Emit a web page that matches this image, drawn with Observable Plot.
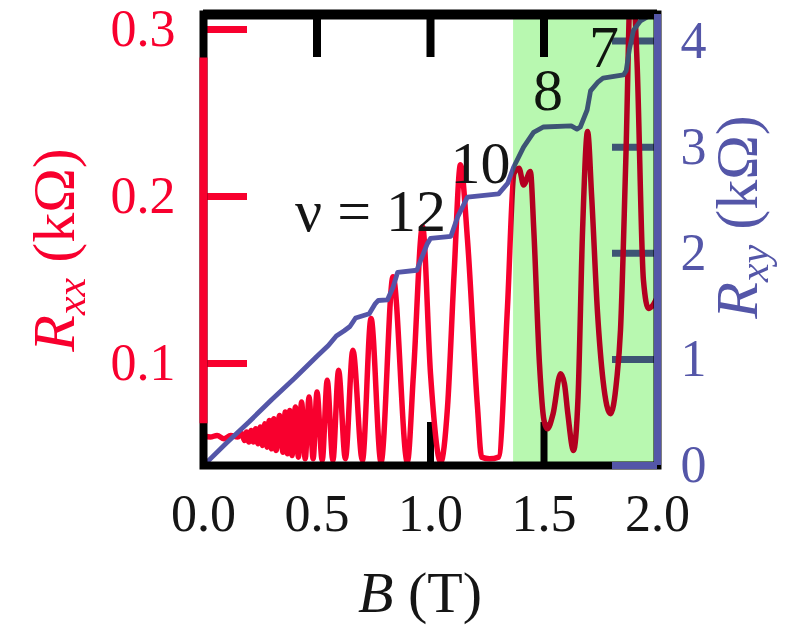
<!DOCTYPE html>
<html><head><meta charset="utf-8">
<script src="https://cdn.jsdelivr.net/npm/d3@7"></script>
<script src="https://cdn.jsdelivr.net/npm/@observablehq/plot@0.6"></script>
<style>body{margin:0;background:#fff}svg{display:block}</style>
</head><body><div id="chart"></div>
<script>
// ---- data ----
const bRxx = [0, 0.03, 0.06, 0.09, 0.12, 0.15, 0.17, 0.18, 0.19, 0.20, 0.21, 0.22, 0.23, 0.24, 0.25, 0.26, 0.27, 0.28, 0.29, 0.30, 0.31, 0.32, 0.335, 0.35, 0.36, 0.37, 0.38, 0.39, 0.405, 0.418, 0.432, 0.448, 0.465, 0.483, 0.50, 0.523, 0.545, 0.570, 0.595, 0.625, 0.658, 0.700, 0.738, 0.782, 0.835, 0.898, 0.925, 0.965, 1.0, 1.045, 1.075, 1.104, 1.132, 1.163, 1.207, 1.225, 1.26, 1.30, 1.339, 1.368, 1.39, 1.41, 1.44, 1.455, 1.48, 1.50, 1.515, 1.54, 1.573, 1.59, 1.605, 1.63, 1.65, 1.67, 1.692, 1.71, 1.736, 1.76, 1.793, 1.82, 1.837, 1.86, 1.885, 1.91, 1.938, 1.96, 1.98, 2.0];
const vRxx = [0.057, 0.056, 0.057, 0.055, 0.057, 0.056, 0.058, 0.054, 0.059, 0.053, 0.060, 0.053, 0.061, 0.052, 0.062, 0.051, 0.064, 0.050, 0.066, 0.049, 0.067, 0.048, 0.069, 0.047, 0.071, 0.046, 0.072, 0.045, 0.074, 0.044, 0.077, 0.043, 0.080, 0.043, 0.083, 0.042, 0.090, 0.042, 0.096, 0.043, 0.108, 0.042, 0.127, 0.041, 0.152, 0.041, 0.094, 0.182, 0.094, 0.041, 0.074, 0.154, 0.219, 0.174, 0.074, 0.044, 0.043, 0.044, 0.1335, 0.214, 0.217, 0.207, 0.215, 0.18, 0.10, 0.066, 0.061, 0.07, 0.094, 0.088, 0.07, 0.048, 0.08, 0.18, 0.239, 0.20, 0.13, 0.09, 0.07, 0.09, 0.12, 0.22, 0.34, 0.28, 0.15, 0.133, 0.135, 0.14];
const bRxy = [0, 0.1, 0.2, 0.3, 0.4, 0.5, 0.55, 0.585, 0.62, 0.645, 0.67, 0.73, 0.755, 0.77, 0.81, 0.835, 0.855, 0.94, 0.956, 0.986, 1.0, 1.09, 1.119, 1.163, 1.30, 1.34, 1.366, 1.41, 1.454, 1.498, 1.62, 1.645, 1.66, 1.69, 1.705, 1.736, 1.76, 1.85, 1.862, 1.876, 1.894, 1.925, 1.982, 2.0];
const vRxy = [0, 0.21, 0.41, 0.62, 0.82, 1.03, 1.13, 1.22, 1.27, 1.31, 1.39, 1.43, 1.52, 1.555, 1.56, 1.68, 1.82, 1.84, 1.93, 2.09, 2.14, 2.16, 2.34, 2.53, 2.56, 2.66, 2.81, 3.0, 3.14, 3.19, 3.2, 3.17, 3.19, 3.35, 3.53, 3.61, 3.65, 3.68, 3.72, 3.92, 4.10, 4.19, 4.26, 4.28];
const bTicks = [0, 0.5, 1, 1.5, 2];
const bTickLabels = ["0.0", "0.5", "1.0", "1.5", "2.0"];
const rxxTicks = [0.1, 0.2, 0.3];
const rxxTickLabels = ["0.1", "0.2", "0.3"];
const rxyTicks = [0, 1, 2, 3, 4];
const rxyTickLabels = ["0", "1", "2", "3", "4"];
const nuLabels = ["ν = 12", "10", "8", "7"];
const nuB = [0.736, 1.22, 1.518, 1.764];
const nuRxx = [0.191, 0.2198, 0.2635, 0.289];
const greenRange = [1.366, 2.0];
const rxxDomain = [0.039, 0.309];
const rxyDomain = [0, 4.25];

// ---- layout / style ----
const W = 798, H = 629, mL = 203, mR = 141, mT = 14, mB = 164;
const plotW = W - mL - mR, plotH = H - mT - mB;
const RED = "#f8002e", BLUE = "#5456a8", GREEN = "#b8f8b0";
const serif = "'Liberation Serif', 'Times New Roman', serif";
const toY = r => rxxDomain[0] + (r - rxyDomain[0]) * (rxxDomain[1] - rxxDomain[0]) / (rxyDomain[1] - rxyDomain[0]);

const rxxData = bRxx.map((b, i) => ({b, v: vRxx[i]}));
const rxyData = bRxy.map((b, i) => ({b, v: toY(vRxy[i])}));

const plot = Plot.plot({
  width: W, height: H,
  marginLeft: mL, marginRight: mR, marginTop: mT, marginBottom: mB,
  x: {domain: [0, 2], axis: null},
  y: {domain: rxxDomain, axis: null},
  style: {fontFamily: serif, background: "white"},
  marks: [
    // inner ticks
    Plot.ruleX(bTicks.slice(1, 4), {x: d => d, stroke: "#000", strokeWidth: 8, insetBottom: plotH - 43}),
    Plot.ruleX([bTicks[0], bTicks[2], bTicks[3]], {x: d => d, stroke: "#000", strokeWidth: 7, insetTop: plotH - 43}),
    Plot.ruleY(rxxTicks, {y: d => d, stroke: RED, strokeWidth: 7, insetRight: plotW - 44}),
    Plot.ruleY(rxyTicks, {y: d => toY(d), stroke: BLUE, strokeWidth: 7, insetLeft: plotW - 45}),
    // curves
    Plot.line(rxxData, {x: "b", y: "v", stroke: RED, strokeWidth: 5.5, curve: "monotone-x", clip: true}),
    Plot.line(rxyData, {x: "b", y: "v", stroke: BLUE, strokeWidth: 4.8, curve: "linear", clip: true}),
    // filling factor labels
    Plot.text(nuLabels, {x: (d, i) => nuB[i], y: (d, i) => nuRxx[i], text: d => d, fontSize: 60, fill: "#151515", lineAnchor: "middle"}),
    // shaded region
    Plot.rect([greenRange], {x1: d => d[0], x2: d => d[1], fill: GREEN, mixBlendMode: "multiply"}),
    // frame
    Plot.frame({stroke: "#000", strokeWidth: 8}),
    Plot.ruleY([rxxDomain[1]], {y: d => d, stroke: "#000", strokeWidth: 10}),
    Plot.ruleX([0], {x: d => d, y1: () => 0.064, y2: () => 0.283, stroke: RED, strokeWidth: 8}),
    Plot.ruleX([2], {x: d => d, stroke: BLUE, strokeWidth: 7}),
    Plot.ruleY([rxyTicks[0]], {y: d => toY(d), stroke: BLUE, strokeWidth: 7, insetLeft: plotW - 45}),
    // tick labels
    Plot.text(bTicks, {x: d => d, text: (d, i) => bTickLabels[i], frameAnchor: "bottom", dy: 65, fontSize: 52, fill: "#151515"}),
    Plot.text(rxxTicks, {y: d => d, text: (d, i) => rxxTickLabels[i], frameAnchor: "left", dx: -28, textAnchor: "end", fontSize: 52, fill: RED}),
    Plot.text(rxyTicks, {y: d => toY(d), text: (d, i) => rxyTickLabels[i], frameAnchor: "right", dx: 23, textAnchor: "start", fontSize: 52, fill: BLUE})
  ]
});

// axis titles with sub-scripts
const svg = d3.select(plot);
const g = svg.append("g").attr("font-family", serif);
const tb = g.append("text").attr("x", 420).attr("y", 612).attr("text-anchor", "middle").attr("font-size", 58).attr("fill", "#151515");
tb.append("tspan").attr("font-style", "italic").text("B");
tb.append("tspan").text(" (T)");

function yTitle(x, y, sub, color) {
  const t = g.append("text").attr("transform", `translate(${x},${y}) rotate(-90)`).attr("text-anchor", "middle").attr("font-size", 60).attr("fill", color);
  t.append("tspan").attr("font-style", "italic").text("R");
  t.append("tspan").attr("font-style", "italic").attr("font-size", 42).attr("dy", 11).text(sub);
  t.append("tspan").attr("dy", -11).text(" (kΩ)");
}
yTitle(74, 250, "xx", RED);
yTitle(757, 217, "xy", BLUE);

document.getElementById("chart").appendChild(plot);
</script>
</body></html>
